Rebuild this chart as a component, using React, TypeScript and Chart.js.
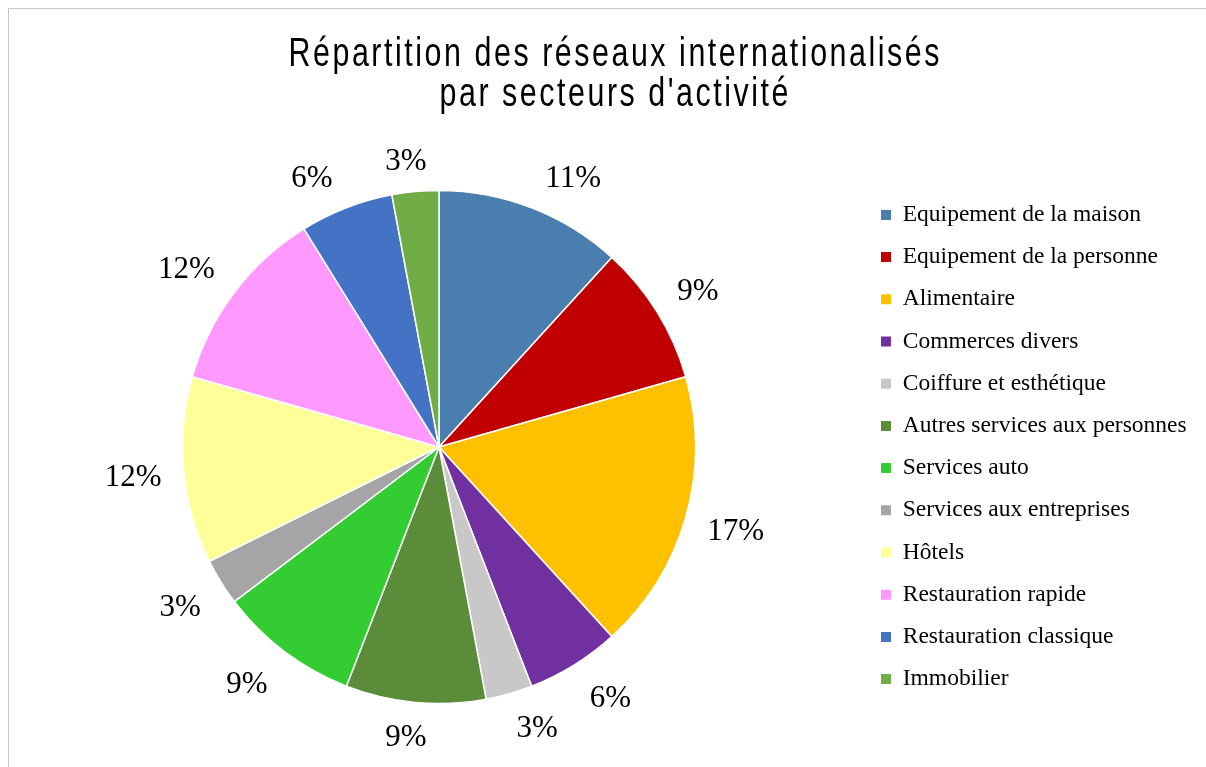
import React, { useEffect, useRef } from 'react';
import { Chart, registerables } from 'chart.js';

Chart.register(...registerables);

const titleLines: string[] = ['Répartition des réseaux internationalisés', "par secteurs d'activité"];

const categories: string[] = [
  'Equipement de la maison',
  'Equipement de la personne',
  'Alimentaire',
  'Commerces divers',
  'Coiffure et esthétique',
  'Autres services aux personnes',
  'Services auto',
  'Services aux entreprises',
  'Hôtels',
  'Restauration rapide',
  'Restauration classique',
  'Immobilier',
];

// Number of internationalised networks per sector (slice sizes)
const networkCounts: number[] = [4, 3, 6, 2, 1, 3, 3, 1, 4, 4, 2, 1];

// Percentages as printed on the chart
const percentLabels: string[] = ['11%', '9%', '17%', '6%', '3%', '9%', '9%', '3%', '12%', '12%', '6%', '3%'];

const sliceColors: string[] = [
  '#4A7EAF',
  '#C00000',
  '#FFC000',
  '#7030A0',
  '#C8C8C8',
  '#5A8C3A',
  '#33CC33',
  '#A5A5A5',
  '#FFFF99',
  '#FF99FF',
  '#4472C4',
  '#70AD47',
];

const TITLE_FONT = '"Liberation Sans", Arial, sans-serif';
const SERIF = '"Liberation Serif", "Times New Roman", serif';
const LEGEND_SIZE = 23.5;
const LEGEND_PAD = 18.7;
const CANVAS_W = 1200;
const CANVAS_H = 780;

const clamp1 = (t: number) => Math.max(-1, Math.min(1, t));

const titlePlugin = {
  id: 'customTitle',
  afterDraw(chart: any) {
    const ctx: CanvasRenderingContext2D = chart.ctx;
    ctx.save();
    ctx.fillStyle = '#000';
    ctx.font = `40px ${TITLE_FONT}`;
    ctx.textAlign = 'left';
    ctx.textBaseline = 'alphabetic';
    (ctx as any).letterSpacing = '0px';
    const sx = 0.76;
    const widths = titleLines.map((l) => ctx.measureText(l).width);
    const target = 651 / sx;
    const n = titleLines[0].length;
    const spacing = Math.max(0, (target - widths[0]) / (n - 1));
    (ctx as any).letterSpacing = `${spacing}px`;
    const cx = 605;
    const baselines = [57, 97];
    titleLines.forEach((line, i) => {
      const w = widths[i] + spacing * (line.length - 1);
      ctx.save();
      ctx.translate(cx, baselines[i]);
      ctx.scale(sx, 1);
      ctx.fillText(line, -w / 2, 0);
      ctx.restore();
    });
    ctx.restore();
  },
};

const pctLabelPlugin = {
  id: 'pctLabels',
  afterDatasetsDraw(chart: any) {
    const meta = chart.getDatasetMeta(0);
    const ctx: CanvasRenderingContext2D = chart.ctx;
    ctx.save();
    ctx.font = `31px ${SERIF}`;
    ctx.fillStyle = '#000';
    ctx.textAlign = 'center';
    ctx.textBaseline = 'middle';
    meta.data.forEach((arc: any, i: number) => {
      const p = arc.getProps(['x', 'y', 'startAngle', 'endAngle', 'outerRadius'], true);
      const mid = (p.startAngle + p.endAngle) / 2;
      const text = percentLabels[i];
      const w = ctx.measureText(text).width;
      const c = Math.cos(mid);
      const s = Math.sin(mid);
      const d = p.outerRadius + 13;
      const hw = w / 2 + 9;
      const hh = 20;
      const cx = p.x + c * d + hw * clamp1(c * 3);
      const cy = p.y + s * d + hh * clamp1(s * 1.5) + 3;
      ctx.fillText(text, cx, cy);
    });
    ctx.restore();
  },
};

export default function App() {
  const ref = useRef<HTMLCanvasElement>(null);

  useEffect(() => {
    if (!ref.current) return;
    const baseGen = (Chart as any).overrides.doughnut.plugins.legend.labels.generateLabels;

    // measure legend text to place the legend box
    const mctx = document.createElement('canvas').getContext('2d')!;
    mctx.font = `${LEGEND_SIZE}px ${SERIF}`;
    const maxText = Math.max(...categories.map((c) => mctx.measureText(c).width));
    const legendW = LEGEND_PAD + 10 + LEGEND_SIZE / 2 + maxText + 10;
    const legendLeft = 872 - LEGEND_PAD;
    const padLeft = 860 - legendLeft;
    const padRight = CANVAS_W - legendLeft - legendW;

    const chart = new Chart(ref.current, {
      type: 'pie',
      data: {
        labels: categories,
        datasets: [
          {
            data: networkCounts,
            backgroundColor: sliceColors,
            borderColor: '#ffffff',
            borderWidth: 1.5,
            hoverOffset: 0,
            offset: 0,
            radius: 256.5,
          } as any,
        ],
      },
      options: {
        responsive: false,
        animation: false,
        events: [],
        layout: {
          padding: { top: 168, bottom: CANVAS_H - 708, left: padLeft, right: padRight },
        },
        plugins: {
          title: { display: false },
          tooltip: { enabled: false },
          legend: {
            display: true,
            position: 'right',
            align: 'center',
            labels: {
              boxWidth: 10,
              boxHeight: 10,
              padding: LEGEND_PAD,
              color: '#000',
              font: { family: SERIF, size: LEGEND_SIZE },
              generateLabels: (c: any) =>
                baseGen(c).map((it: any) => ({ ...it, lineWidth: 0, strokeStyle: 'rgba(0,0,0,0)' })),
            },
          },
        },
      } as any,
      plugins: [titlePlugin, pctLabelPlugin],
    });
    return () => chart.destroy();
  }, []);

  return (
    <div
      style={{
        position: 'fixed',
        left: 0,
        top: 0,
        width: 1206,
        height: 767,
        overflow: 'hidden',
        background: '#fff',
      }}
    >
      <div
        style={{
          position: 'absolute',
          left: 8,
          top: 8,
          width: CANVAS_W,
          height: CANVAS_H,
          border: '1px solid #c8c8c8',
        }}
      >
        <canvas
          ref={ref}
          width={CANVAS_W}
          height={CANVAS_H}
          style={{ display: 'block', width: CANVAS_W, height: CANVAS_H }}
        />
      </div>
    </div>
  );
}
